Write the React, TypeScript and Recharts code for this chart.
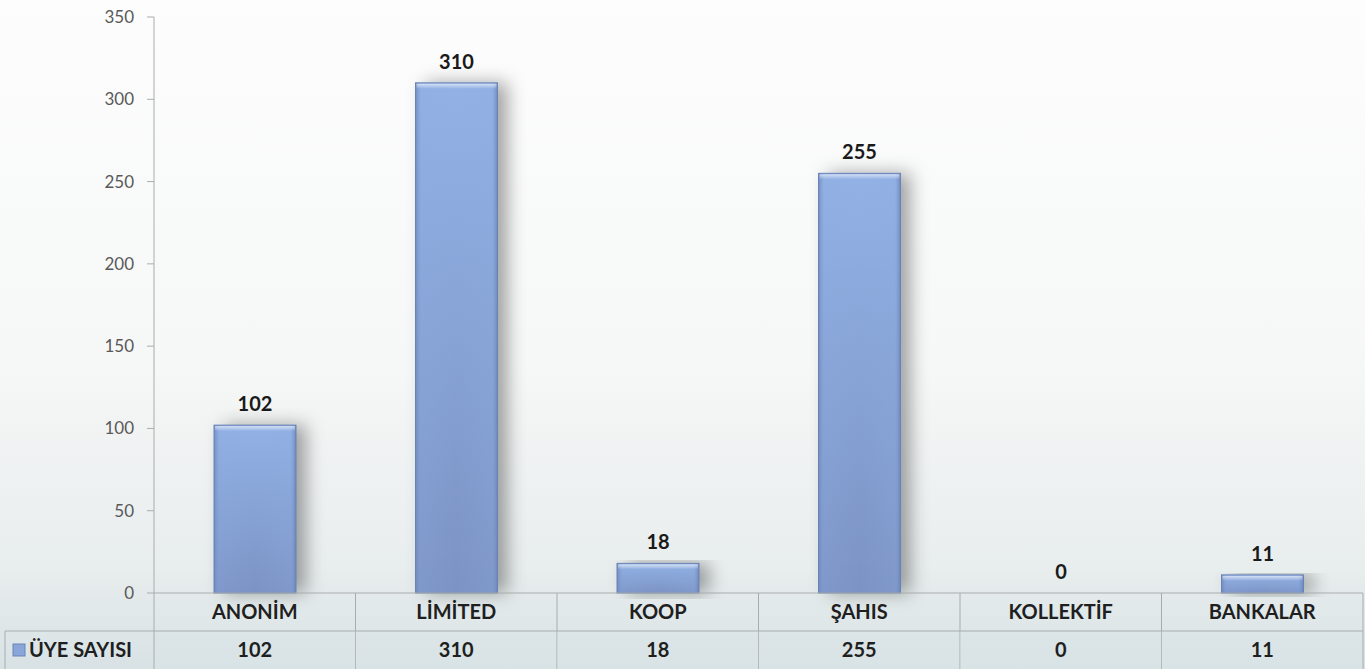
import { Bar, BarChart, LabelList, XAxis, YAxis } from 'recharts'

const categories = ['ANONİM', 'LİMİTED', 'KOOP', 'ŞAHIS', 'KOLLEKTİF', 'BANKALAR']
const uyeSayisi = [102, 310, 18, 255, 0, 11]
const yTicks = [0, 50, 100, 150, 200, 250, 300, 350]
const seriesName = 'ÜYE SAYISI'

const data = categories.map((name, i) => ({ name, value: uyeSayisi[i] }))

const W = 1365
const H = 669
const Y_AXIS_W = 154
const RIGHT = 2
const X_AXIS_H = 76
const BAND = (W - Y_AXIS_W - RIGHT) / categories.length
const ROW_H = 38
const GRID = '#a9acad'
const FONT = 'Lato, "Open Sans", sans-serif'

function BarShape(props: any) {
  const { x, y, width, height } = props
  if (!height || height <= 0) return null
  const bevel = Math.min(5, height / 2)
  return (
    <g>
      <rect x={x} y={y} width={width} height={height} fill="url(#barBody)" filter="url(#barShadow)" />
      <rect x={x} y={y} width={width} height={height} fill="url(#barEdges)" stroke="#6a83b6" strokeWidth={1} />
      <rect x={x + 1} y={y + 1} width={width - 2} height={bevel} fill="url(#barTop)" />
    </g>
  )
}

function TableTick(props: any) {
  const { x, y, payload, index } = props
  const left = x - BAND / 2
  const right = x + BAND / 2
  return (
    <g>
      <rect x={left} y={y + ROW_H} width={BAND} height={ROW_H} fill="#d9e4e7" opacity={0.45} />
      <line x1={left} y1={y + ROW_H} x2={right} y2={y + ROW_H} stroke={GRID} />
      <line x1={right} y1={y} x2={right} y2={y + ROW_H * 2} stroke={GRID} />
      {index === 0 && (
        <g>
          <line x1={left} y1={y} x2={left} y2={y + ROW_H * 2} stroke={GRID} />
          <line x1={5} y1={y + ROW_H} x2={left} y2={y + ROW_H} stroke={GRID} />
          <line x1={5} y1={y + ROW_H} x2={5} y2={y + ROW_H * 2} stroke={GRID} />
          <rect x={13} y={y + ROW_H + 13} width={12} height={12} fill="#8aa6d8" stroke="#6a83b6" />
          <text x={29} y={y + ROW_H + 26} fontFamily={FONT} fontWeight={700} fontSize={20} fill="#1f1f1f">
            {seriesName}
          </text>
        </g>
      )}
      <text x={x} y={y + 26} textAnchor="middle" fontFamily={FONT} fontWeight={700} fontSize={20} fill="#1f1f1f">
        {payload.value}
      </text>
      <text x={x} y={y + ROW_H + 26} textAnchor="middle" fontFamily={FONT} fontWeight={700} fontSize={20} fill="#1f1f1f">
        {uyeSayisi[index]}
      </text>
    </g>
  )
}

export default function App() {
  return (
    <div
      style={{
        position: 'absolute',
        left: 0,
        top: 0,
        width: W,
        height: H,
        background: 'linear-gradient(to bottom, #fdfdfd 0%, #f6f7f7 55%, #e8eded 85%, #d8e2e5 100%)',
      }}
    >
      <BarChart width={W} height={H} data={data} margin={{ top: 17, right: RIGHT, bottom: 0, left: 0 }}>
        <defs>
          <linearGradient id="barBody" x1="0" y1="0" x2="0" y2="1">
            <stop offset="0%" stopColor="#93b2e6" />
            <stop offset="100%" stopColor="#7990c2" />
          </linearGradient>
          <linearGradient id="barEdges" x1="0" y1="0" x2="1" y2="0">
            <stop offset="0%" stopColor="#6d87bd" stopOpacity={0.9} />
            <stop offset="7%" stopColor="#8eacdf" stopOpacity={0.3} />
            <stop offset="50%" stopColor="#8eacdf" stopOpacity={0.1} />
            <stop offset="93%" stopColor="#8eacdf" stopOpacity={0.3} />
            <stop offset="100%" stopColor="#6983b8" stopOpacity={0.9} />
          </linearGradient>
          <linearGradient id="barTop" x1="0" y1="0" x2="0" y2="1">
            <stop offset="0%" stopColor="#ffffff" stopOpacity={0.6} />
            <stop offset="100%" stopColor="#ffffff" stopOpacity={0} />
          </linearGradient>
          <filter id="barShadow" x="-30%" y="-10%" width="180%" height="130%">
            <feDropShadow dx={10} dy={0} stdDeviation={9} floodColor="#000" floodOpacity={0.35} />
          </filter>
        </defs>
        <YAxis
          width={Y_AXIS_W}
          domain={[0, 350]}
          ticks={yTicks}
          interval={0}
          axisLine={{ stroke: GRID }}
          tickLine={{ stroke: GRID }}
          tickSize={7}
          tickMargin={13}
          tick={{ fontSize: 17, fill: '#595959', fontFamily: FONT }}
        />
        <XAxis
          dataKey="name"
          height={X_AXIS_H}
          interval={0}
          axisLine={{ stroke: GRID }}
          tickLine={false}
          tickSize={0}
          tickMargin={0}
          tick={<TableTick />}
        />
        <Bar dataKey="value" barSize={82} shape={<BarShape />} isAnimationActive={false}>
          <LabelList
            dataKey="value"
            position="top"
            offset={14}
            style={{ fontSize: 20, fontWeight: 700, fill: '#1a1a1a', fontFamily: FONT }}
          />
        </Bar>
      </BarChart>
    </div>
  )
}
